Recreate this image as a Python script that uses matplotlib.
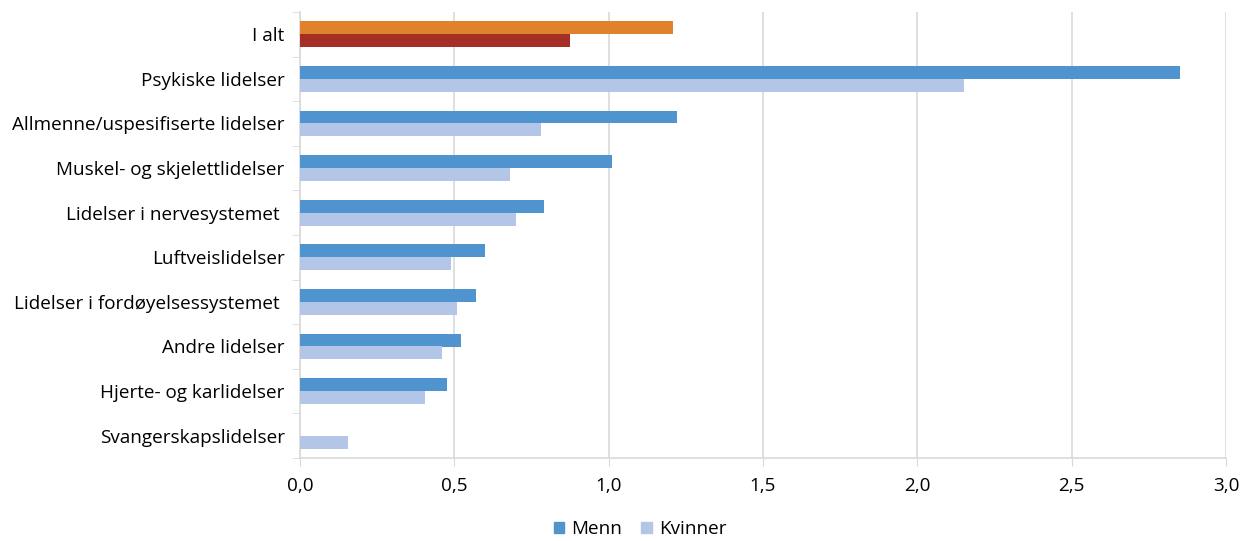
import matplotlib.pyplot as plt
import matplotlib.patches as mpatches
import numpy as np

plt.rcParams['font.family'] = ['Open Sans', 'DejaVu Sans']

categories = [
    "I alt",
    "Psykiske lidelser",
    "Allmenne/uspesifiserte lidelser",
    "Muskel- og skjelettlidelser",
    "Lidelser i nervesystemet ",
    "Luftveislidelser",
    "Lidelser i fordøyelsessystemet ",
    "Andre lidelser",
    "Hjerte- og karlidelser",
    "Svangerskapslidelser",
]
menn = [1.21, 2.85, 1.22, 1.01, 0.79, 0.60, 0.57, 0.52, 0.475, 0.0]
kvinner = [0.875, 2.15, 0.78, 0.68, 0.70, 0.49, 0.51, 0.46, 0.405, 0.155]
xticks = [0.0, 0.5, 1.0, 1.5, 2.0, 2.5, 3.0]

c_menn, c_kvinner = "#4F94CF", "#B4C6E7"
c_total_m, c_total_k = "#E0812B", "#A52F27"
fs = 13.6

fig = plt.figure(figsize=(12.43, 5.41), dpi=100)
ax = fig.add_axes([300 / 1243, 83 / 541, 926 / 1243, 446 / 541])

y = np.arange(len(categories))
h = 0.29
col_m = [c_total_m] + [c_menn] * (len(categories) - 1)
col_k = [c_total_k] + [c_kvinner] * (len(categories) - 1)
ax.barh(y - h / 2, menn, height=h, color=col_m, zorder=3)
ax.barh(y + h / 2, kvinner, height=h, color=col_k, zorder=3)

ax.set_ylim(len(categories) - 0.5, -0.5)
ax.set_xlim(0, 3.0)
ax.set_yticks(y)
ax.set_yticklabels(categories, fontsize=fs)
ax.set_yticks(np.arange(len(categories) + 1) - 0.5, minor=True)
ax.tick_params(axis='y', which='major', length=0, pad=11)
ax.tick_params(axis='y', which='minor', length=6, color="#D9D9D9")

ax.set_xticks(xticks)
ax.set_xticklabels([f"{v:.1f}".replace(".", ",") for v in xticks], fontsize=fs)
ax.tick_params(axis='x', length=6, color="#D9D9D9", pad=8)

ax.grid(axis='x', color="#D9D9D9", linewidth=1.2, zorder=0)
for s in ["top", "right"]:
    ax.spines[s].set_visible(False)
for s in ["left", "bottom"]:
    ax.spines[s].set_color("#D9D9D9")
    ax.spines[s].set_linewidth(1.2)

handles = [mpatches.Patch(color=c_menn, label="Menn"),
           mpatches.Patch(color=c_kvinner, label="Kvinner")]
fig.legend(handles=handles, loc="lower center", bbox_to_anchor=(0.515, -0.026),
           ncol=2, frameon=False, fontsize=fs, handlelength=0.55,
           handleheight=0.55, handletextpad=0.4, columnspacing=1.0)

fig.savefig("out.png", dpi=100)
